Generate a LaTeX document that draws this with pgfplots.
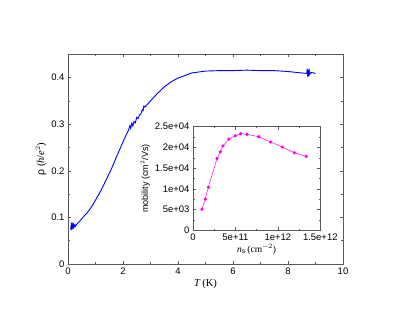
\documentclass[border=0pt]{standalone}
\usepackage{pgfplots}
\pgfplotsset{compat=1.18}
\usepackage{fontspec}
\setmainfont{Liberation Sans}
\newfontfamily\seriffont{Liberation Serif}
\definecolor{axgray}{RGB}{90,90,90}
\definecolor{mag}{RGB}{255,0,230}
\begin{document}
\begin{tikzpicture}[x=1pt,y=1pt]
\path[use as bounding box] (0,0) rectangle (412,319);
\begin{axis}[
  scale only axis, width=275pt, height=209.7pt,
  at={(68pt,55pt)}, anchor=south west,
  xmin=0, xmax=10, ymin=0, ymax=0.45,
  xtick={0,2,4,6,8,10}, ytick={0,0.1,0.2,0.3,0.4},
  minor x tick num=1, minor y tick num=1,
  tick align=inside, ticks=both,
  major tick length=3pt, minor tick length=1.8pt,
  axis line style={axgray, line width=0.5pt},
  every tick/.style={axgray, line width=0.5pt},
  tick label style={font=\fontsize{9.5}{10}\selectfont},
  /pgf/number format/assume math mode=true,
  yticklabel style={/pgf/number format/fixed, /pgf/number format/precision=1},
  xlabel={\seriffont\fontsize{10.5}{12}\selectfont\textit{T}\,(K)},
  ylabel={\fontsize{10.5}{12}\selectfont ρ\ {\seriffont(\textit{h}/\textit{e}$^{2}$)}},
  xlabel style={yshift=2pt},
  ylabel style={yshift=-2pt},
]
\addplot[blue, line width=0.9pt] coordinates {
(0.10,0.080)(0.11,0.072)(0.12,0.089)(0.13,0.074)(0.14,0.086)(0.15,0.076)(0.16,0.084)(0.18,0.078)(0.20,0.085)(0.22,0.079)(0.25,0.084)(0.28,0.081)(0.30,0.084)(0.35,0.087)(0.40,0.090)(0.50,0.097)(0.60,0.104)(0.70,0.110)(0.80,0.118)(0.90,0.127)(1.00,0.137)(1.20,0.158)(1.40,0.182)(1.60,0.207)(1.80,0.235)(2.00,0.262)(2.10,0.275)(2.20,0.287)(2.25,0.297)(2.28,0.291)(2.32,0.302)(2.36,0.296)(2.40,0.306)(2.45,0.303)(2.50,0.315)(2.55,0.312)(2.60,0.320)(2.65,0.322)(2.70,0.331)(2.73,0.329)(2.76,0.339)(2.80,0.337)(3.00,0.350)(3.25,0.366)(3.50,0.380)(3.75,0.391)(4.00,0.399)(4.50,0.410)(5.00,0.414)(5.50,0.415)(6.00,0.415)(6.50,0.416)(7.00,0.415)(7.50,0.415)(8.00,0.413)(8.50,0.410)(8.68,0.409)(8.70,0.419)(8.72,0.401)(8.74,0.417)(8.76,0.403)(8.78,0.414)(8.80,0.408)(8.85,0.411)(9.00,0.409)
};
\end{axis}
\begin{axis}[
  scale only axis, width=127.3pt, height=103.6pt,
  at={(193pt,88.7pt)}, anchor=south west,
  xmin=0, xmax=1.5e12, ymin=0, ymax=25000,
  scaled ticks=false,
  xtick={0,5e11,1e12,1.5e12}, xticklabels={0,5e+11,1e+12,1.5e+12},
  ytick={0,5000,10000,15000,20000,25000},
  yticklabels={0,5e+03,1e+04,1.5e+04,2e+04,2.5e+04},
  minor x tick num=1, minor y tick num=1,
  tick align=inside, ticks=both,
  major tick length=3pt, minor tick length=1.8pt,
  axis line style={axgray, line width=0.5pt},
  every tick/.style={axgray, line width=0.5pt},
  tick label style={font=\fontsize{9.5}{10}\selectfont},
  xlabel={\seriffont\fontsize{9.5}{11}\selectfont\textit{n}$_{\mathrm{s}}$\,(cm$^{-2}$)},
  ylabel={\fontsize{9}{10}\selectfont mobility (cm$^{2}$/Vs)},
  xlabel style={yshift=3pt},
  ylabel style={yshift=-2pt},
]
\addplot[mag, line width=0.5pt, mark=*, mark size=1.4pt, mark options={fill=mag, draw=mag}] coordinates {
(1.06e11,5100)(1.45e11,7560)(1.81e11,10370)(2.83e11,17360)(3.22e11,18970)(3.53e11,20340)(4.24e11,22030)(4.99e11,22830)(5.62e11,23310)(6.36e11,23150)(7.74e11,22590)(9.15e11,21300)(1.052e12,20100)(1.194e12,18730)(1.335e12,17850)
};
\end{axis}
\end{tikzpicture}
\end{document}
